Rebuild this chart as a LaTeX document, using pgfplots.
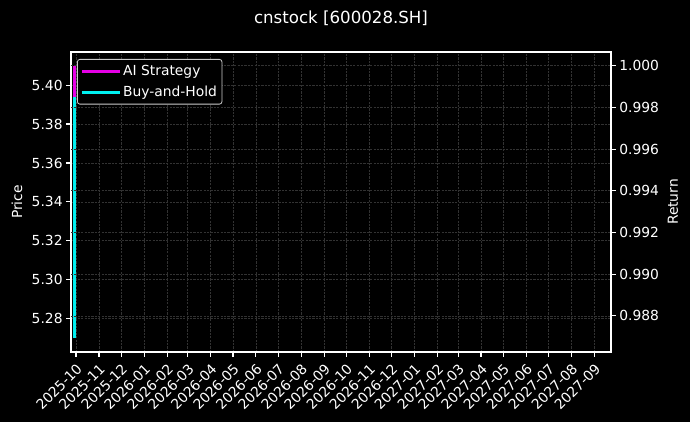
\documentclass[border=0pt]{standalone}
\usepackage{fontspec}
\setmainfont{DejaVu Sans}
\usepackage{pgfplots}
\pgfplotsset{compat=1.18}
\definecolor{gridc}{RGB}{50,50,50}
\definecolor{legedge}{RGB}{204,204,204}
\definecolor{aicol}{RGB}{230,0,230}
\definecolor{bhcol}{RGB}{0,240,240}

\pgfplotsset{
  darkstyle/.style={
    scale only axis, width=540bp, height=300bp,
    at={(71bp,70bp)}, anchor=south west,
    xmin=-6.75, xmax=722.5,
    axis line style={white, line width=1.1bp},
    tick style={white, line width=1.1bp},
    tick align=outside, major tick length=4.9bp,
    ticklabel style={text=white, font=\fontsize{13.9}{16}\selectfont},
    label style={text=white, font=\fontsize{13.9}{16}\selectfont},
    /pgf/number format/assume math mode=true,
    grid style={gridc, line width=0.7bp, dash pattern=on 2.2bp off 1.2bp},
  },
}

\begin{document}
\begin{tikzpicture}
\fill[black] (0,0) rectangle (690bp,422bp);

% price axis (left)
\begin{axis}[darkstyle,
    ymin=5.2629, ymax=5.417,
    xtick pos=bottom, ytick pos=left,
    xmajorgrids, ymajorgrids,
    xtick={0,31,61,92,123,151,182,212,243,273,304,335,365,396,426,457,488,516,547,577,608,638,669,700},
    xticklabels={2025-10,2025-11,2025-12,2026-01,2026-02,2026-03,2026-04,2026-05,2026-06,2026-07,2026-08,2026-09,2026-10,2026-11,2026-12,2027-01,2027-02,2027-03,2027-04,2027-05,2027-06,2027-07,2027-08,2027-09},
    xticklabel style={rotate=45, anchor=east, inner sep=0pt, xshift=-4bp, yshift=-9bp},
    ytick={5.28,5.30,5.32,5.34,5.36,5.38,5.40},
    yticklabel style={/pgf/number format/.cd, fixed, fixed zerofill, precision=2},
    ylabel={Price},
    ylabel style={at={(axis description cs:-0.1,0.5)}, anchor=center},
    title={cnstock [600028.SH]},
    title style={at={(axis description cs:0.5,1.093)}, anchor=center, text=white, font=\fontsize{16.7}{19}\selectfont},
]
\addplot[bhcol, line width=2.78bp] coordinates {(-1.5,5.41) (-1.5,5.27)};
\end{axis}

% return axis (right)
\begin{axis}[darkstyle,
    ymin=0.98627, ymax=1.00066,
    hide x axis, axis y line*=right, ytick pos=right,
    ymajorgrids,
    ytick={0.988,0.990,0.992,0.994,0.996,0.998,1.000},
    yticklabel style={/pgf/number format/.cd, fixed, fixed zerofill, precision=3},
    ylabel={Return},
    ylabel style={at={(axis description cs:1.1148,0.5)}, anchor=center, rotate=0},
    legend style={at={(0.0111,0.9767)}, anchor=north west, fill=black, draw=legedge,
      rounded corners=2.5bp, text=white, line width=0.8bp,
      font=\fontsize{13.9}{16}\selectfont, inner xsep=3bp, inner ysep=4bp,
      row sep=5bp},
    legend cell align=left,
    legend image code/.code={\path (-3bp,0bp) -- (35bp,0bp); \draw[#1] (0bp,0bp) -- (29bp,0bp);},
]
\addplot[aicol, line width=2.78bp] coordinates {(-2.5,1.0000) (-2.5,0.9985)};
\addlegendentry{AI Strategy}
\addlegendimage{bhcol, line width=2.78bp}
\addlegendentry{Buy-and-Hold}
\end{axis}
\end{tikzpicture}
\end{document}
